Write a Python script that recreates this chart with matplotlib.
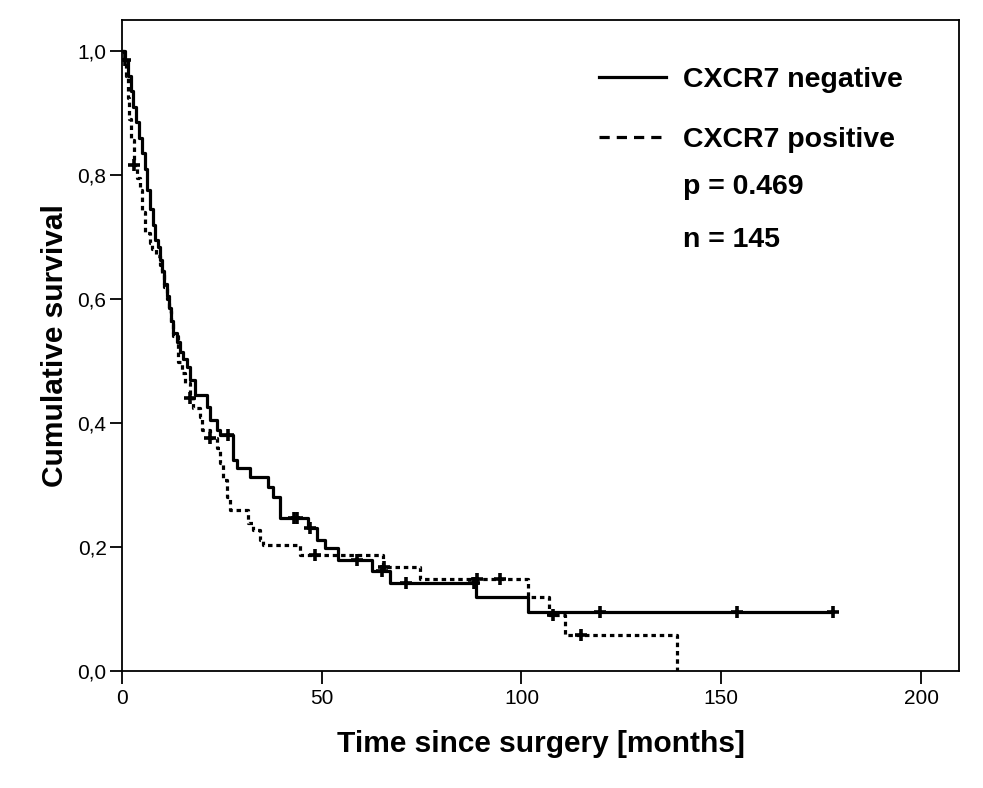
import numpy as np
import matplotlib
matplotlib.use("Agg")
import matplotlib.pyplot as plt
from matplotlib.lines import Line2D

# ---- data ----
neg_times = [0.8, 1.5, 2.2, 2.9, 3.6, 4.3, 5.0, 5.7, 6.4, 7.0, 7.8, 8.3, 9.0, 9.5, 10.0,
             10.6, 11.2, 11.8, 12.4, 12.9, 13.8, 14.5, 15.4, 16.3, 17.0, 18.3, 21.3,
             22.0, 23.8, 24.5, 27.8, 28.8, 32.0, 36.5, 37.8, 39.5, 46.5, 48.8, 50.8,
             54.0, 62.6, 67.0, 88.6, 101.6]
neg_surv = [0.985, 0.96, 0.935, 0.91, 0.885, 0.86, 0.835, 0.81, 0.776, 0.745, 0.72, 0.695,
            0.684, 0.663, 0.645, 0.625, 0.605, 0.585, 0.565, 0.545, 0.53, 0.515, 0.503,
            0.49, 0.469, 0.445, 0.426, 0.405, 0.389, 0.38, 0.34, 0.327, 0.313, 0.297,
            0.28, 0.247, 0.231, 0.211, 0.198, 0.179, 0.161, 0.142, 0.119, 0.095]
neg_censor = [0.8, 26.5, 43.0, 43.8, 47.0, 58.8, 65.0, 71.0, 88.0, 119.7, 154.0, 178.0]

pos_times = [0.5, 1.0, 1.5, 1.9, 2.3, 3.0, 3.7, 4.5, 5.0, 5.8, 7.0, 7.5, 8.5, 9.5, 10.0,
             10.6, 11.2, 11.8, 12.4, 12.8, 14.0, 15.0, 15.8, 17.0, 17.8, 19.5, 20.0,
             22.0, 23.8, 24.5, 25.3, 26.3, 27.0, 31.5, 32.8, 34.5, 35.3, 44.5, 65.3,
             74.6, 101.6, 107.0, 111.0, 139.0]
pos_surv = [0.985, 0.96, 0.925, 0.89, 0.856, 0.816, 0.795, 0.776, 0.74, 0.706, 0.69,
            0.68, 0.67, 0.655, 0.64, 0.62, 0.6, 0.58, 0.56, 0.54, 0.498, 0.481, 0.465,
            0.44, 0.424, 0.41, 0.389, 0.376, 0.36, 0.335, 0.308, 0.28, 0.26, 0.239,
            0.227, 0.211, 0.203, 0.187, 0.168, 0.148, 0.119, 0.09, 0.058, 0.0]
pos_censor = [3.0, 17.0, 22.0, 48.3, 65.5, 88.8, 94.6, 108.0, 115.0]

legend_labels = ["CXCR7 negative", "CXCR7 positive"]
annot_lines = ["p = 0.469", "n = 145"]
x_ticks = [0, 50, 100, 150, 200]
y_ticks = [0.0, 0.2, 0.4, 0.6, 0.8, 1.0]
y_ticklabels = ["0,0", "0,2", "0,4", "0,6", "0,8", "1,0"]
x_label = "Time since surgery [months]"
y_label = "Cumulative survival"

# ---- plotting ----
plt.rcParams["font.family"] = ["Liberation Sans", "DejaVu Sans"]

fig = plt.figure(figsize=(9.83, 7.88), dpi=100)
ax = fig.add_axes([0.124, 0.1485, 0.8516, 0.8261])

curve_dash = (0, (1.4, 1.2))


def step_value(times, surv, t):
    idx = np.searchsorted(np.asarray(times), t, side="right") - 1
    return 1.0 if idx < 0 else surv[idx]


def draw_curve(times, surv, censor, ls):
    end = max(max(times), max(censor))
    tt = np.concatenate([[0.0], times, [end]])
    ss = np.concatenate([[1.0], surv, [surv[-1]]])
    ax.plot(tt, ss, drawstyle="steps-post", color="black", lw=2.3,
            linestyle=ls, solid_capstyle="butt", dash_capstyle="butt")
    cy = [step_value(times, surv, c) for c in censor]
    ax.plot(censor, cy, linestyle="none", marker="+", markersize=9,
            markeredgewidth=2.6, color="black")


draw_curve(neg_times, neg_surv, neg_censor, "-")
draw_curve(pos_times, pos_surv, pos_censor, curve_dash)

ax.set_xlim(0, 209.5)
ax.set_ylim(0, 1.05)
ax.set_xticks(x_ticks)
ax.set_xticklabels([str(v) for v in x_ticks])
ax.set_yticks(y_ticks)
ax.set_yticklabels(y_ticklabels)
ax.tick_params(axis="both", direction="out", length=9, width=1.3, labelsize=15,
               color="black")
ax.tick_params(axis="x", pad=4)
ax.tick_params(axis="y", pad=2)
for sp in ax.spines.values():
    sp.set_linewidth(1.3)

ax.set_xlabel(x_label, fontsize=21.5, fontweight="bold", labelpad=16)
ax.set_ylabel(y_label, fontsize=21.5, fontweight="bold", labelpad=6)

h1 = Line2D([], [], color="black", lw=2.3)
h2 = Line2D([], [], color="black", lw=2.3, linestyle=(0, (3.2, 2.2)))
leg = ax.legend([h1, h2], legend_labels, loc="upper left",
                bbox_to_anchor=(0.539, 0.967), frameon=False,
                prop={"size": 20.5, "weight": "bold"}, handlelength=2.35,
                handletextpad=0.62, labelspacing=1.2)
for i, txt in enumerate(annot_lines):
    ax.text(0.670, 0.7435 - i * 0.0815, txt, transform=ax.transAxes, fontsize=20.5,
            fontweight="bold", va="center", ha="left")

fig.savefig("out.png", dpi=100)
